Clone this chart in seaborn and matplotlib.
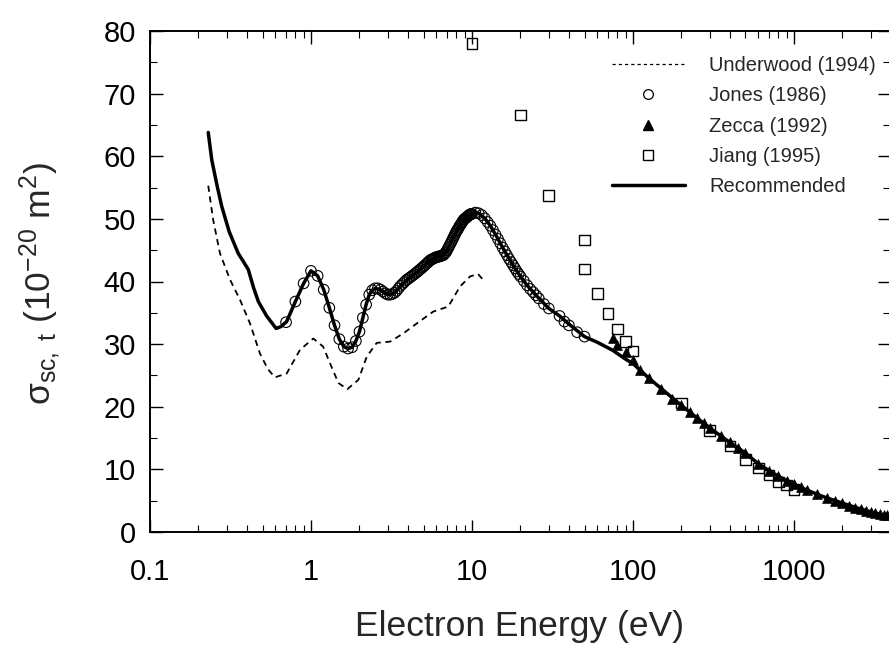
import matplotlib
matplotlib.use("Agg")
import matplotlib.pyplot as plt
import seaborn as sns
from matplotlib.lines import Line2D
from matplotlib.ticker import LogLocator, NullFormatter, MultipleLocator, FixedLocator, FixedFormatter

# ---- data -------------------------------------------------------------
# Underwood (1994), dashed curve
und_energy = [0.23, 0.247, 0.272, 0.314, 0.362, 0.418, 0.482, 0.54, 0.597, 0.706,
              0.855, 1.034, 1.19, 1.34, 1.48, 1.68, 1.97, 2.22, 2.56, 3.10,
              3.74, 4.54, 5.75, 7.13, 8.43, 9.72, 10.9, 12.0]
und_sigma = [55.3, 49.8, 44.5, 40.3, 37.1, 33.3, 28.5, 26.0, 24.7, 25.3,
             29.1, 30.9, 29.6, 26.4, 23.8, 22.8, 24.3, 28.0, 30.2, 30.4,
             31.7, 33.3, 35.2, 36.0, 39.2, 40.8, 41.2, 40.0]

# Jones (1986), open circles
jones_energy = [0.7, 0.8, 0.9, 1.0, 1.1, 1.2, 1.3, 1.4, 1.5, 1.6, 1.7, 1.8, 1.9,
                2.0, 2.1, 2.2, 2.3, 2.4, 2.5, 2.6, 2.7, 2.8, 2.9,
                3.0, 3.1, 3.2, 3.3, 3.4, 3.5, 3.6, 3.7, 3.8, 3.9,
                4.0, 4.1, 4.2, 4.3, 4.4, 4.5, 4.6, 4.7, 4.8, 4.9,
                5.0, 5.1, 5.2, 5.3, 5.4, 5.5, 5.6, 5.7, 5.8, 5.9,
                6.0, 6.1, 6.2, 6.3, 6.4, 6.5, 6.6, 6.7, 6.8, 6.9,
                7.0, 7.1, 7.2, 7.3, 7.4, 7.5, 7.6, 7.7, 7.8, 7.9,
                8.0, 8.1, 8.2, 8.3, 8.4, 8.5, 8.6, 8.7, 8.8, 8.9,
                9.0, 9.1, 9.2, 9.3, 9.4, 9.5, 9.6, 9.7, 9.8, 9.9, 10.0,
                10.5, 11.0, 11.5, 12.0, 12.5, 13.0, 13.5, 14.0, 14.5, 15.0,
                15.5, 16.0, 16.5, 17.0, 17.5, 18.0, 18.5, 19.0, 19.5, 20.0,
                21, 22, 23, 24, 25, 26, 28, 30, 35, 37.5, 40, 45, 50]
jones_sigma = [33.5, 36.8, 39.7, 41.7, 40.9, 38.7, 35.8, 33.0, 30.8, 29.6, 29.3, 29.5, 30.5,
               32.0, 34.2, 36.3, 37.9, 38.6, 38.9, 38.9, 38.7, 38.4, 38.1,
               37.9, 37.9, 38.0, 38.2, 38.5, 38.9, 39.3, 39.6, 39.9, 40.2,
               40.4, 40.6, 40.8, 41.0, 41.2, 41.4, 41.6, 41.8, 42.0, 42.2,
               42.4, 42.6, 42.8, 43.0, 43.2, 43.4, 43.5, 43.6, 43.7, 43.8,
               43.9, 43.9, 44.0, 44.0, 44.1, 44.1, 44.2, 44.3, 44.5, 44.7,
               45.0, 45.3, 45.6, 45.9, 46.2, 46.5, 46.8, 47.1, 47.4, 47.7,
               48.0, 48.2, 48.4, 48.7, 48.9, 49.1, 49.3, 49.5, 49.7, 49.9,
               50.0, 50.1, 50.2, 50.3, 50.4, 50.5, 50.6, 50.7, 50.7, 50.8, 50.8,
               51.0, 50.9, 50.6, 50.1, 49.5, 48.9, 48.2, 47.5, 46.8, 46.1,
               45.4, 44.8, 44.2, 43.6, 43.1, 42.6, 42.1, 41.6, 41.2, 40.8,
               40.1, 39.4, 38.8, 38.3, 37.8, 37.3, 36.4, 35.7, 34.5, 33.6, 33.0, 31.9, 31.2]

# Zecca (1992), filled triangles
zecca_energy = [75, 80, 90, 100, 110, 125, 150, 175, 200, 225, 250, 275, 300, 350,
                400, 450, 500, 600, 700, 800, 900, 1000, 1100, 1200, 1400, 1600,
                1800, 2000, 2200, 2400, 2600, 2800, 3000, 3200, 3400, 3600, 3800]
zecca_sigma = [30.9, 29.9, 28.8, 27.5, 25.9, 24.6, 22.9, 21.3, 20.2, 19.1, 18.2, 17.4, 16.6, 15.3,
               14.3, 13.4, 12.6, 10.9, 9.8, 8.9, 8.2, 7.6, 7.2, 6.7, 6.0, 5.4,
               5.0, 4.6, 4.2, 3.9, 3.6, 3.4, 3.2, 3.0, 2.9, 2.75, 2.65]

# Jiang (1995), open squares
jiang_energy = [10, 20, 30, 50, 50, 60, 70, 80, 90, 100, 200, 300, 400, 500, 600,
                700, 800, 900, 1000]
jiang_sigma = [78.0, 66.6, 53.7, 46.6, 42.0, 38.1, 34.9, 32.4, 30.4, 28.9, 20.6, 16.2, 13.7,
               11.6, 10.2, 9.1, 8.0, 7.5, 6.8]

# Recommended cross section, solid curve
rec_energy = [0.23, 0.242, 0.26, 0.279, 0.31, 0.353, 0.38, 0.408, 0.44, 0.471, 0.53,
              0.607, 0.65, 0.706, 0.8, 0.9, 1.0, 1.1, 1.2, 1.3, 1.4, 1.5, 1.6, 1.7,
              1.8, 1.9, 2.0, 2.1, 2.2, 2.3, 2.4, 2.5, 2.7, 2.9, 3.1, 3.3, 3.5, 3.8,
              4.2, 4.6, 5.0, 5.5, 6.0, 6.5, 7.0, 7.5, 8.0, 8.5, 9.0, 9.5, 10.0,
              10.5, 11.0, 12.0, 13.0, 14.0, 15.0, 16.0, 18.0, 20.0, 22.0, 25.0,
              30.0, 35.0, 40.0, 50.0, 60.0, 75.0, 90.0, 100, 125, 150, 200, 250,
              300, 400, 500, 600, 700, 800, 900, 1000, 1200, 1500, 2000, 2500,
              3000, 3500, 3950]
rec_sigma = [63.8, 59.4, 55.5, 52.0, 48.0, 44.5, 43.2, 41.9, 39.0, 36.8, 34.5,
             32.5, 32.8, 33.6, 36.8, 39.7, 41.7, 40.9, 38.7, 35.8, 33.0, 30.8, 29.6, 29.3,
             29.5, 30.5, 32.0, 34.2, 36.3, 37.9, 38.6, 38.9, 38.7, 38.1, 37.9, 38.2, 38.9, 39.9,
             40.8, 41.6, 42.4, 43.4, 43.9, 44.1, 45.0, 46.5, 48.0, 49.1, 50.0, 50.5, 50.8,
             51.0, 50.9, 50.1, 48.9, 47.5, 46.1, 44.8, 42.6, 40.8, 39.4, 37.8,
             35.7, 34.5, 33.2, 31.2, 30.3, 29.0, 27.6, 26.9, 24.6, 22.9, 20.2, 18.2,
             16.6, 14.3, 12.6, 10.9, 9.8, 8.9, 8.2, 7.6, 6.7, 5.7, 4.6, 3.8,
             3.2, 2.8, 2.5]

x_ticks = [0.1, 1, 10, 100, 1000]
x_tick_labels = ["0.1", "1", "10", "100", "1000"]
legend_labels = ["Underwood (1994)", "Jones (1986)", "Zecca (1992)", "Jiang (1995)", "Recommended"]

# ---- style ------------------------------------------------------------
sns.set_theme(style="ticks")
plt.rcParams["font.family"] = ["Liberation Sans", "DejaVu Sans"]
plt.rcParams["mathtext.fontset"] = "custom"
plt.rcParams["mathtext.rm"] = "Liberation Sans"
plt.rcParams["mathtext.it"] = "Liberation Sans:italic"
plt.rcParams["mathtext.default"] = "regular"

fig = plt.figure(figsize=(8.89, 6.58), dpi=100)
ax = fig.add_axes([150 / 889, 126 / 658, 740 / 889, 501 / 658])

dash = (0, (3.4, 2.6))
sns.lineplot(x=und_energy, y=und_sigma, ax=ax, color="black", lw=1.3,
             linestyle=dash, sort=False, estimator=None, legend=False)
sns.lineplot(x=rec_energy, y=rec_sigma, ax=ax, color="black", lw=2.5,
             sort=False, estimator=None, legend=False)
sns.scatterplot(x=jones_energy, y=jones_sigma, ax=ax, marker="o", s=58,
                facecolors="none", edgecolors="black", linewidths=0.8, legend=False, zorder=3)
sns.scatterplot(x=zecca_energy, y=zecca_sigma, ax=ax, marker="^", s=50,
                color="black", edgecolor="black", linewidth=0.5, legend=False, zorder=4)
sns.scatterplot(x=jiang_energy, y=jiang_sigma, ax=ax, marker="s", s=58,
                facecolors="none", edgecolors="black", linewidths=1.0, legend=False, zorder=5)

# ---- axes -------------------------------------------------------------
ax.set_xscale("log")
ax.set_xlim(0.1, 3950)
ax.set_ylim(0, 80)
ax.xaxis.set_major_locator(FixedLocator(x_ticks))
ax.xaxis.set_major_formatter(FixedFormatter(x_tick_labels))
ax.xaxis.set_minor_locator(LogLocator(base=10, subs=range(2, 10), numticks=20))
ax.xaxis.set_minor_formatter(NullFormatter())
ax.yaxis.set_major_locator(MultipleLocator(10))
ax.yaxis.set_minor_locator(MultipleLocator(5))

ax.tick_params(which="both", direction="in", top=True, right=True, colors="black")
ax.tick_params(which="major", length=9, width=1.0, labelsize=21)
ax.tick_params(which="minor", length=5, width=0.8)
ax.tick_params(axis="y", which="major", pad=10)
ax.tick_params(axis="x", which="major", pad=19)
for sp in ax.spines.values():
    sp.set_linewidth(1.4)
    sp.set_color("black")
ax.grid(False)

ax.set_xlabel("Electron Energy (eV)", fontsize=25.5, va="center")
ax.xaxis.set_label_coords(0.5, -0.188)
ax.set_ylabel("σ$_{sc,\\ t}$ (10$^{-20}$ m$^{2}$)", fontsize=25.5, va="center")
ax.yaxis.set_label_coords(-0.149, 0.495)

handles = [
    Line2D([], [], color="black", lw=0.9, linestyle=(0, (2.6, 2.4))),
    Line2D([], [], marker="o", ls="none", mfc="none", mec="black", mew=0.9, ms=7),
    Line2D([], [], marker="^", ls="none", mfc="black", mec="black", ms=6.5),
    Line2D([], [], marker="s", ls="none", mfc="none", mec="black", mew=1.0, ms=7),
    Line2D([], [], color="black", lw=2.5),
]
ax.legend(handles, legend_labels, loc="upper left",
          bbox_to_anchor=(612 / 889, 1 - 56 / 658), bbox_transform=fig.transFigure,
          frameon=False, fontsize=14.5, handlelength=3.6, handletextpad=1.24,
          labelspacing=0.56, borderpad=0, borderaxespad=0)

fig.savefig("out.png", dpi=100)
